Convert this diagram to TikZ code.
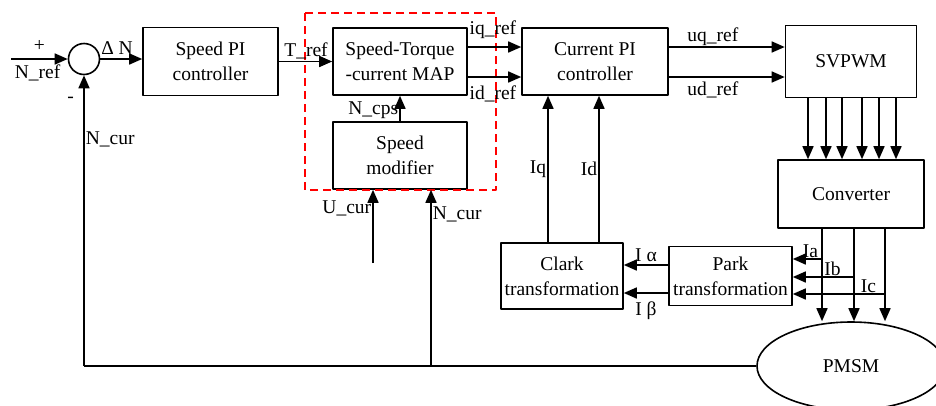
\documentclass[tikz,border=0pt]{standalone}
\usepackage{fontspec}
\setmainfont{Liberation Serif}
\usetikzlibrary{arrows.meta,shapes.geometric}
\begin{document}
\begin{tikzpicture}[x=1pt, y=-1pt, font=\fontsize{19.5}{25}\selectfont, line width=1.6pt, line join=round, >={Triangle[length=13pt,width=11pt]},
	box/.style={draw, rectangle, align=center, inner sep=0pt},
	lbl/.style={inner sep=1pt}]
	\useasboundingbox (0,0) rectangle (936,405);
	\clip (0,0) rectangle (936,405);
	% blocks
	\node[draw, circle, minimum size=31pt, inner sep=0pt] (sum) at (84,59) {};
	\node[box, minimum width=135pt, minimum height=68pt] (spi) at (210.5,61.5) {Speed PI\\controller};
	\node[box, minimum width=134pt, minimum height=67pt] (map) at (400,61.5) {Speed-Torque\\-current MAP};
	\node[box, minimum width=134pt, minimum height=67pt] (smod) at (400,155.5) {Speed\\modifier};
	\node[box, minimum width=146pt, minimum height=67pt] (cpi) at (595,61.5) {Current PI\\controller};
	\node[box, minimum width=131pt, minimum height=72pt] (svpwm) at (851,61.5) {SVPWM};
	\node[box, minimum width=146pt, minimum height=68pt] (conv) at (851,194) {Converter};
	\node[box, minimum width=123pt, minimum height=59pt] (park) at (730.5,276) {Park\\transformation};
	\node[box, minimum width=122pt, minimum height=66pt] (clark) at (562,276) {Clark\\transformation};
	\node[draw, ellipse, minimum width=188pt, minimum height=88pt, inner sep=0pt] (pmsm) at (851,366) {PMSM};
	\draw[red, dash pattern=on 8pt off 5pt, line width=1.2pt] (305,13) rectangle (496,190);
	% speed loop
	\coordinate (nin) at (11,59);
	\draw[->] (nin) -- node[above=3pt, pos=0.5]{+} node[below=4pt, pos=0.47, lbl]{N\_ref} (sum.west);
	\draw[->] (sum.east) -- node[above=3pt, pos=0.4, lbl]{Δ N} (sum.east -| spi.west);
	\draw[->] (spi.east) -- node[above=1pt, pos=0.51, lbl]{T\_ref} (map.west);
	\draw[->] (smod.north) -- node[left, pos=0.44, lbl]{N\_cps} (map.south);
	% current loop
	\draw[->] ([yshift=14.5pt]map.east) -- node[above=7pt, pos=0.47, lbl]{iq\_ref} ([yshift=14.5pt]cpi.west);
	\draw[->] ([yshift=-15.5pt]map.east) -- node[below=7pt, pos=0.47, lbl]{id\_ref} ([yshift=-15.5pt]cpi.west);
	\draw[->] ([yshift=14.5pt]cpi.east) -- node[above, pos=0.38, lbl]{uq\_ref} ([yshift=14.5pt]svpwm.west);
	\draw[->] ([yshift=-15.5pt]cpi.east) -- node[below=3pt, pos=0.38, lbl]{ud\_ref} ([yshift=-15.5pt]svpwm.west);
	\foreach \x [count=\i] in {808,826,842,862,879,896}{
		\coordinate (s\i) at (\x,0);
		\draw[->] (s\i |- svpwm.south) -- (s\i |- conv.north);}
	\foreach \x/\y/\t/\p in {822/259/Ia/0.4, 854/277/Ib/0.35, 885/294/Ic/0.18}{
		\coordinate (c\t) at (\x,\y);
		\draw[->] (c\t |- conv.south) -- (c\t |- pmsm.north);
		\draw[->] (c\t) -- node[above, pos=\p, lbl]{\t} (c\t -| park.east);}
	\draw[->] ([yshift=11pt]park.west) -- node[above=2pt, lbl]{I α} ([yshift=11pt]clark.east);
	\draw[->] ([yshift=-17pt]park.west) -- node[below=7pt, lbl]{I β} ([yshift=-17pt]clark.east);
	\foreach \x/\t in {548/Iq, 599/Id}{
		\coordinate (f\t) at (\x,0);
		\draw[->] (f\t |- clark.north) -- node[left, lbl]{\t} (f\t |- cpi.south);}
	% feedback
	\coordinate (ncur) at (431,0);
	\coordinate (ucur) at (373,263);
	\draw (pmsm.west) -- (sum |- pmsm.west);
	\draw[->] (sum |- pmsm.west) -- node[pos=0.78, right, lbl]{N\_cur} node[pos=0.915, left, xshift=-6pt]{-} (sum.south);
	\draw[->] (ncur |- pmsm.west) -- node[pos=0.86, right, lbl]{N\_cur} (ncur |- smod.south);
	\draw[->] (ucur) -- node[pos=0.74, left, lbl]{U\_cur} (ucur |- smod.south);
\end{tikzpicture}
\end{document}
